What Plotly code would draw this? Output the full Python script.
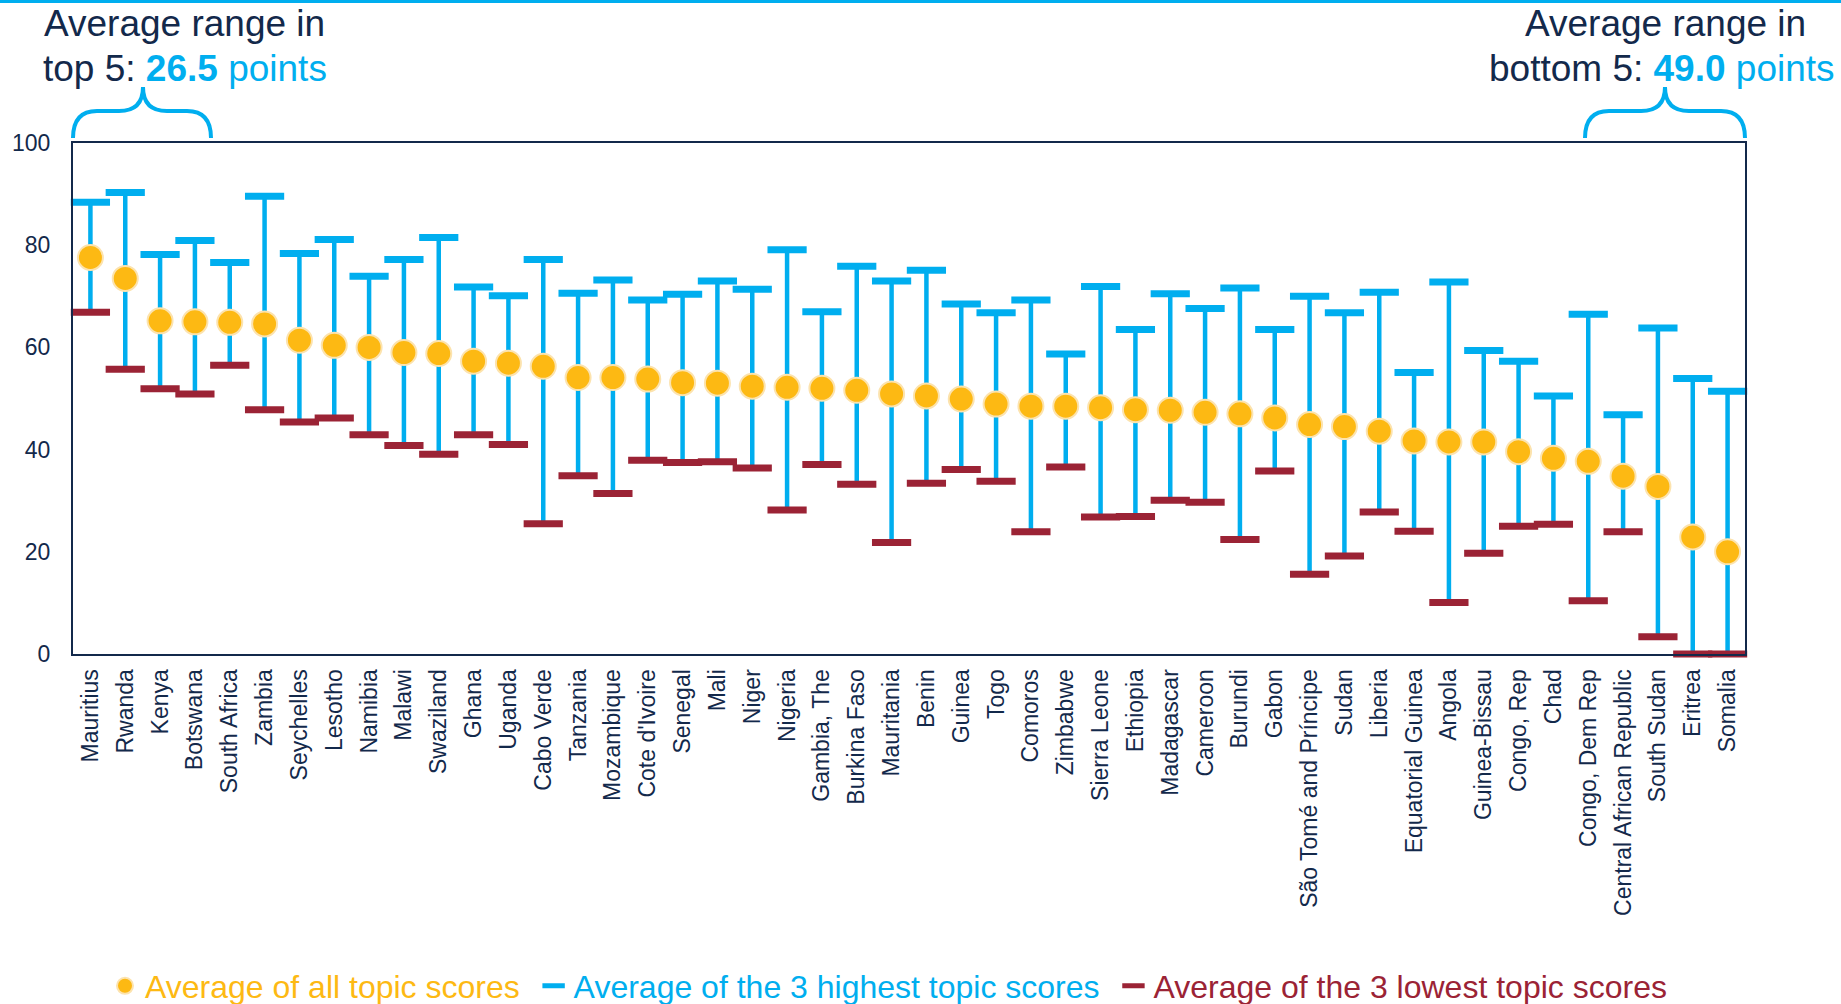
import plotly.graph_objects as go

countries = ["Mauritius", "Rwanda", "Kenya", "Botswana", "South Africa", "Zambia", "Seychelles",
             "Lesotho", "Namibia", "Malawi", "Swaziland", "Ghana", "Uganda", "Cabo Verde", "Tanzania",
             "Mozambique", "Cote d'Ivoire", "Senegal", "Mali", "Niger", "Nigeria", "Gambia, The",
             "Burkina Faso", "Mauritania", "Benin", "Guinea", "Togo", "Comoros", "Zimbabwe",
             "Sierra Leone", "Ethiopia", "Madagascar", "Cameroon", "Burundi", "Gabon",
             "São Tomé and Príncipe", "Sudan", "Liberia", "Equatorial Guinea", "Angola",
             "Guinea-Bissau", "Congo, Rep", "Chad", "Congo, Dem Rep", "Central African Republic",
             "South Sudan", "Eritrea", "Somalia"]

avg_all = [77.6, 73.5, 65.2, 65.0, 64.9, 64.6, 61.4, 60.4, 60.0, 59.0, 58.8, 57.3, 56.9, 56.3,
           54.1, 54.1, 53.8, 53.1, 53.0, 52.4, 52.2, 52.0, 51.6, 50.9, 50.5, 49.9, 48.9, 48.5,
           48.5, 48.2, 47.8, 47.7, 47.3, 47.0, 46.2, 44.9, 44.5, 43.6, 41.7, 41.5, 41.5, 39.6,
           38.3, 37.7, 34.8, 32.8, 22.9, 20.0]

avg_high = [88.4, 90.3, 78.2, 80.9, 76.6, 89.6, 78.4, 81.1, 73.9, 77.2, 81.5, 71.8, 70.1, 77.2,
            70.6, 73.2, 69.3, 70.4, 73.0, 71.4, 79.1, 67.0, 75.9, 73.0, 75.1, 68.5, 66.8, 69.3,
            58.7, 71.9, 63.5, 70.5, 67.6, 71.6, 63.5, 70.0, 66.8, 70.8, 55.1, 72.8, 59.4, 57.3,
            50.5, 66.5, 46.8, 63.8, 53.9, 51.4]

avg_low = [66.9, 55.7, 51.9, 50.9, 56.5, 47.8, 45.4, 46.2, 42.9, 40.8, 39.1, 42.9, 41.0, 25.5,
           34.9, 31.4, 37.9, 37.5, 37.6, 36.4, 28.2, 37.1, 33.2, 21.8, 33.4, 36.1, 33.8, 23.9,
           36.6, 26.8, 26.9, 30.1, 29.7, 22.4, 35.8, 15.6, 19.2, 27.8, 24.0, 10.1, 19.7, 25.0,
           25.4, 10.4, 23.9, 3.4, 0.0, 0.0]

y_ticks = [0, 20, 40, 60, 80, 100]

W, H = 1841, 1004
L, R, T, B = 73, 1745, 143, 654

def px(x):
    return (x - L) / (R - L)

def py(y):
    return (B - y) / (B - T)

NAVY = "#13294B"
BLUE = "#00AEEF"
ORANGE = "#FDB913"
RED = "#9B2335"
FONT = "Liberation Sans, Arial, sans-serif"

lx, ly = [], []
for c, lo, hi in zip(countries, avg_low, avg_high):
    lx += [c, c, None]
    ly += [lo, hi, None]

fig = go.Figure()
fig.add_trace(go.Scatter(x=lx, y=ly, mode="lines", line=dict(color=BLUE, width=4.5),
                         showlegend=False, hoverinfo="skip", cliponaxis=False))
fig.add_trace(go.Scatter(x=countries, y=avg_low, mode="markers", cliponaxis=False,
                         name=f"<span style='color:{RED}'>Average of the 3 lowest topic scores</span>",
                         legendrank=3,
                         marker=dict(symbol="line-ew", size=28, color=RED,
                                     line=dict(color=RED, width=7))))
fig.add_trace(go.Scatter(x=countries, y=avg_high, mode="markers", cliponaxis=False,
                         name=f"<span style='color:{BLUE}'>Average of the 3 highest topic scores</span>&nbsp;",
                         legendrank=2,
                         marker=dict(symbol="line-ew", size=28, color=BLUE,
                                     line=dict(color=BLUE, width=7))))
fig.add_trace(go.Scatter(x=countries, y=avg_all, mode="markers", cliponaxis=False,
                         name=f"<span style='color:{ORANGE}'>Average of all topic scores</span>&nbsp;",
                         legendrank=1,
                         marker=dict(symbol="circle", size=25, color=ORANGE,
                                     line=dict(color="#FCE3AE", width=2))))

def brace(x0, x1, xc, yend=138, ymid=111, ypeak=87, r=24):
    pts = [("M", [(x0, yend)]),
           ("Q", [(x0, ymid), (x0 + r, ymid)]),
           ("L", [(xc - r, ymid)]),
           ("Q", [(xc, ymid), (xc, ypeak)]),
           ("Q", [(xc, ymid), (xc + r, ymid)]),
           ("L", [(x1 - r, ymid)]),
           ("Q", [(x1, ymid), (x1, yend)])]
    s = ""
    for cmd, ps in pts:
        s += cmd + " " + " ".join(f"{px(a):.5f},{py(b):.5f}" for a, b in ps) + " "
    return s.strip()

shapes = [
    dict(type="path", xref="paper", yref="paper", path=brace(73, 211, 143),
         line=dict(color=BLUE, width=4)),
    dict(type="path", xref="paper", yref="paper", path=brace(1585, 1745, 1665),
         line=dict(color=BLUE, width=4)),
    dict(type="line", xref="paper", yref="paper", x0=px(0), x1=px(W), y0=py(1.5), y1=py(1.5),
         line=dict(color=BLUE, width=3)),
]

def note(x, y, text):
    return dict(xref="paper", yref="paper", x=px(x), y=py(y), xanchor="center",
                yanchor="middle", showarrow=False, align="center",
                font=dict(family=FONT, size=37, color=NAVY), text=text)

annotations = [
    note(184, 24, "Average range in"),
    note(185, 69, f"top 5: <b><span style='color:{BLUE}'>26.5</span></b>"
                  f"<span style='color:{BLUE}'> points</span>"),
    note(1665, 24, "Average range in"),
    note(1662, 69, f"bottom 5: <b><span style='color:{BLUE}'>49.0</span></b>"
                   f"<span style='color:{BLUE}'> points</span>"),
]

fig.update_layout(
    width=W, height=H,
    margin=dict(l=L, r=W - R, t=T, b=H - B, pad=0),
    paper_bgcolor="white", plot_bgcolor="white",
    font=dict(family=FONT, color=NAVY),
    shapes=shapes, annotations=annotations,
    showlegend=True,
    legend=dict(orientation="h", x=px(105), xanchor="left", yref="container",
                y=(H - 986) / H, yanchor="middle", font=dict(family=FONT, size=32),
                itemwidth=30, bgcolor="rgba(0,0,0,0)"),
    xaxis=dict(type="category", categoryorder="array", categoryarray=countries,
               range=[-0.5, len(countries) - 0.5], tickangle=-90, showgrid=False,
               showline=True, mirror=True, linecolor=NAVY, linewidth=2, ticks="",
               tickfont=dict(family=FONT, size=23, color=NAVY), ticklabelstandoff=4,
               zeroline=False),
    yaxis=dict(range=[0, 100], tickvals=y_ticks, showgrid=False, showline=True, mirror=True,
               linecolor=NAVY, linewidth=2, ticks="", zeroline=False,
               tickfont=dict(family=FONT, size=23, color=NAVY), ticklabelstandoff=16),
)

fig.write_html("out.html", config={"displayModeBar": False},
               post_script="document.body.style.margin='0';document.body.style.overflow='hidden';")
